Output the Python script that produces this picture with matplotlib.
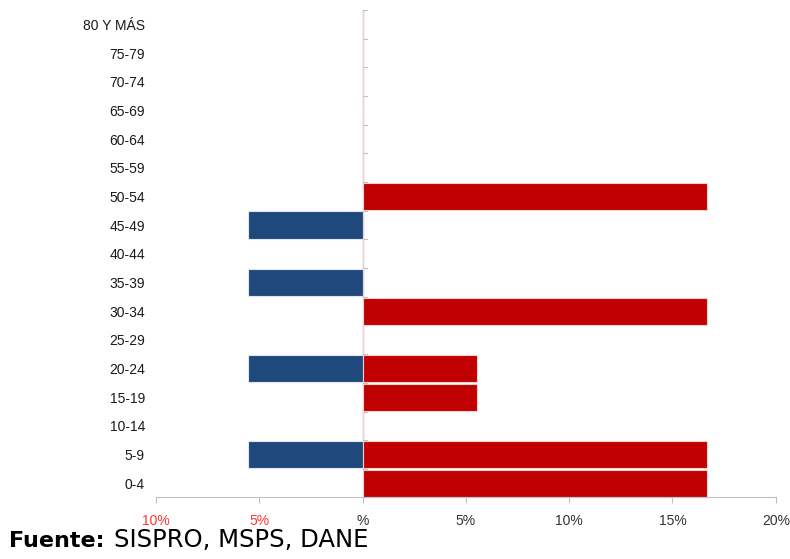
import matplotlib.pyplot as plt
import numpy as np

# Age groups, bottom to top
grupos = ['0-4', '5-9', '10-14', '15-19', '20-24', '25-29', '30-34', '35-39',
          '40-44', '45-49', '50-54', '55-59', '60-64', '65-69', '70-74',
          '75-79', '80 Y MÁS']
# Percentages (men shown to the left, women to the right)
hombres = [0, 5.56, 0, 0, 5.56, 0, 0, 5.56, 0, 5.56, 0, 0, 0, 0, 0, 0, 0]
mujeres = [16.67, 16.67, 0, 5.56, 5.56, 0, 16.67, 0, 0, 0, 16.67, 0, 0, 0, 0, 0, 0]

x_ticks = [-10, -5, 0, 5, 10, 15, 20]
x_labels = ['10%', '5%', '%', '5%', '10%', '15%', '20%']

fig = plt.figure(figsize=(7.9, 5.59), dpi=100)
ax = fig.add_axes([0.1975, 0.111, 0.7845, 0.871])

y = np.arange(len(grupos))
ax.barh(y, -np.array(hombres), height=0.95, color='#1F497D',
        edgecolor='#dfe6ef', linewidth=0.8)
ax.barh(y, mujeres, height=0.95, color='#C00000',
        edgecolor='#f2d0d0', linewidth=0.8)

ax.set_xlim(-10, 20)
ax.set_ylim(-0.48, 16.5)

# central axis line with small ticks
ax.axvline(0, color='#bfbfbf', linewidth=1, zorder=0)
for b in np.arange(-0.5, 16.6, 1.0):
    ax.plot([0, 0.2], [b, b], color='#bfbfbf', linewidth=0.8, zorder=0)

for s in ['left', 'right', 'top']:
    ax.spines[s].set_visible(False)
ax.spines['bottom'].set_color('#bfbfbf')

ax.set_yticks(y)
ax.set_yticklabels(grupos, fontsize=10, family='Liberation Sans', color='#1a1a1a')
ax.tick_params(axis='y', length=0, pad=8)

ax.set_xticks(x_ticks)
ax.set_xticklabels(x_labels, fontsize=10, family='Liberation Sans')
ax.tick_params(axis='x', length=4, color='#bfbfbf', pad=8)
for lbl, v in zip(ax.get_xticklabels(), x_ticks):
    lbl.set_color('#ff3333' if v < 0 else '#333333')

# footer: bold label followed by regular text
t1 = fig.text(0.012, 0.022, 'Fuente:', fontsize=16, fontweight='bold',
              family='DejaVu Sans', color='black')
fig.canvas.draw()
bb = t1.get_window_extent()
fig.text((bb.x1 + 9) / fig.bbox.width, 0.022, 'SISPRO, MSPS, DANE',
         fontsize=17.5, family='DejaVu Sans', color='black')

fig.savefig('out.png', dpi=100)
